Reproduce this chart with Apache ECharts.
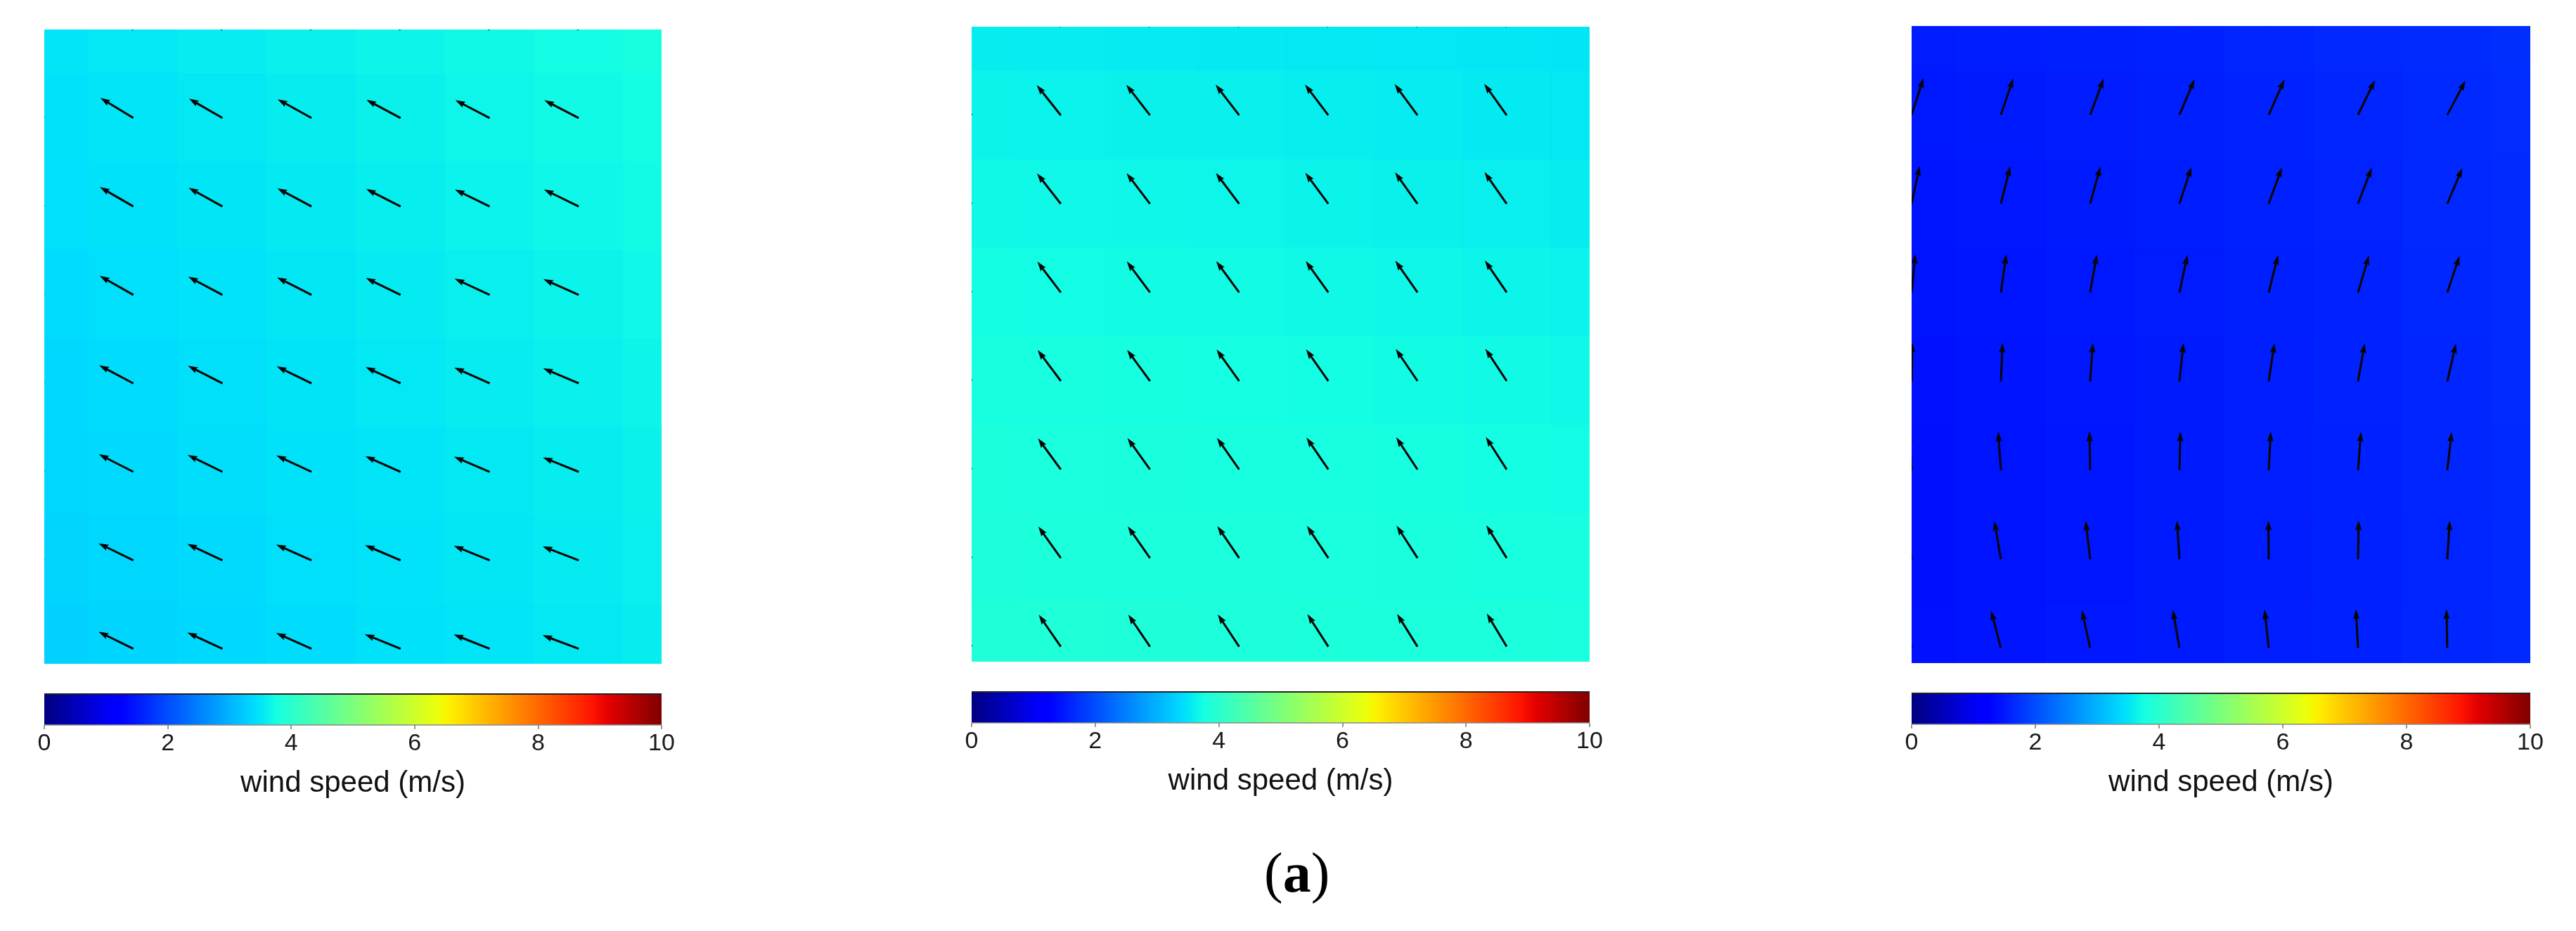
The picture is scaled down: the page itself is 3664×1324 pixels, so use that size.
<!DOCTYPE html>
<html>
<head>
<meta charset="utf-8">
<script src="https://cdn.jsdelivr.net/npm/echarts@6/dist/echarts.min.js"></script>
<style>
html,body{margin:0;padding:0;background:#fff;}
#chart{width:3664px;height:1324px;}
</style>
</head>
<body>
<div id="chart"></div>
<script>
// ---------------- DATA ----------------
// grid coordinates of the vector field (x columns, y rows; row 7 is the top edge)
const xCols = [0, 1, 2, 3, 4, 5, 6];
const yRows = [7, 6, 5, 4, 3, 2, 1, 0];
// background cells (cell centres) for the speed field
const cellCols = [0, 1, 2, 3, 4, 5, 6, 7];

// wind speed (m/s), rows listed from y=7 (top) to y=0 (bottom), columns x=0..7
const speed1 = [
  [3.50, 3.53, 3.57, 3.61, 3.65, 3.69, 3.73, 3.78],
  [3.47, 3.50, 3.54, 3.58, 3.62, 3.66, 3.70, 3.74],
  [3.44, 3.47, 3.51, 3.55, 3.59, 3.63, 3.67, 3.71],
  [3.41, 3.44, 3.48, 3.52, 3.56, 3.60, 3.64, 3.68],
  [3.38, 3.41, 3.45, 3.49, 3.53, 3.57, 3.61, 3.65],
  [3.36, 3.39, 3.43, 3.46, 3.50, 3.54, 3.58, 3.62],
  [3.33, 3.36, 3.40, 3.44, 3.48, 3.52, 3.56, 3.60],
  [3.30, 3.34, 3.38, 3.42, 3.46, 3.50, 3.54, 3.58]
];
const speed2 = [
  [3.58, 3.57, 3.56, 3.55, 3.54, 3.53, 3.52, 3.51],
  [3.64, 3.63, 3.62, 3.61, 3.59, 3.57, 3.55, 3.54],
  [3.69, 3.68, 3.67, 3.66, 3.64, 3.62, 3.60, 3.58],
  [3.74, 3.73, 3.72, 3.71, 3.69, 3.67, 3.65, 3.63],
  [3.78, 3.77, 3.76, 3.75, 3.74, 3.72, 3.70, 3.68],
  [3.82, 3.81, 3.80, 3.79, 3.78, 3.76, 3.74, 3.73],
  [3.85, 3.84, 3.83, 3.82, 3.81, 3.80, 3.79, 3.77],
  [3.88, 3.87, 3.86, 3.85, 3.84, 3.83, 3.82, 3.81]
];
const speed3 = [
  [1.52, 1.54, 1.56, 1.58, 1.61, 1.64, 1.67, 1.70],
  [1.49, 1.51, 1.53, 1.56, 1.59, 1.62, 1.65, 1.68],
  [1.46, 1.48, 1.51, 1.54, 1.57, 1.60, 1.64, 1.67],
  [1.44, 1.46, 1.49, 1.52, 1.56, 1.59, 1.63, 1.66],
  [1.42, 1.45, 1.48, 1.51, 1.55, 1.59, 1.62, 1.66],
  [1.41, 1.44, 1.47, 1.51, 1.55, 1.58, 1.62, 1.65],
  [1.41, 1.44, 1.47, 1.51, 1.54, 1.58, 1.61, 1.65],
  [1.42, 1.45, 1.48, 1.51, 1.55, 1.58, 1.62, 1.65]
];

// wind direction (degrees, counter-clockwise from east), rows y=7..0, columns x=0..6
const dir1 = [
  [147, 148, 150, 150.5, 151.5, 152, 152],
  [147.5, 148.6, 150, 151, 152, 152.5, 152.7],
  [149, 150, 151, 152, 153, 154, 154],
  [149.5, 150.5, 152, 153, 154, 155, 156],
  [151, 152, 153, 154, 155, 156, 157],
  [152, 153, 154, 155, 156, 157, 158],
  [153, 154, 155, 156, 157, 158, 159],
  [153, 154, 155.2, 156, 158, 158.4, 159.5]
];
const dir2 = [
  [129, 129, 128.3, 128, 127.7, 127, 126],
  [129, 128.5, 127.8, 127.5, 127.2, 126.3, 125.5],
  [128.5, 128, 127.3, 127, 126.5, 125.5, 125],
  [128, 127.3, 126.8, 126.3, 125.8, 125, 124.3],
  [127.3, 126.8, 126.3, 125.7, 125.2, 124.3, 123.5],
  [126.8, 126.2, 125.6, 125, 124.4, 123.5, 122.7],
  [126, 125.5, 125, 124.3, 123.6, 122.8, 121.8],
  [125.3, 124.7, 124.2, 123.5, 122.8, 122, 121]
];
const dir3 = [
  [68, 67, 65.5, 63, 62, 60, 58],
  [72, 71.3, 69.5, 67, 66, 64, 62],
  [78, 76, 74.5, 72, 70, 69, 67],
  [84.5, 82, 80, 78, 76, 73.5, 71.5],
  [89, 87.5, 86, 84, 81.5, 80, 77],
  [94, 94, 91, 88.5, 87, 85.5, 83.5],
  [100, 99.7, 96.7, 93.7, 90.5, 89, 86.3],
  [107, 104.7, 102.3, 99.9, 96.2, 93.1, 91.2]
];

const cbTicks = [0, 2, 4, 6, 8, 10];
const cbRange = [0, 10];
const cbName = 'wind speed (m/s)';
const panelLabel = 'a';

// ---------------- STYLE ----------------
function jet(t) {
  const cl = v => Math.max(0, Math.min(1, v));
  let r, g, b;
  if (t < 0.35) r = 0; else if (t < 0.66) r = (t - 0.35) / 0.31; else if (t < 0.89) r = 1; else r = 1 - 0.5 * (t - 0.89) / 0.11;
  if (t < 0.125) g = 0; else if (t < 0.375) g = (t - 0.125) / 0.25; else if (t < 0.64) g = 1; else if (t < 0.91) g = 1 - (t - 0.64) / 0.27; else g = 0;
  if (t < 0.11) b = 0.5 + 0.5 * t / 0.11; else if (t < 0.34) b = 1; else if (t < 0.65) b = 1 - (t - 0.34) / 0.31; else b = 0;
  const h = v => Math.round(cl(v) * 255);
  return 'rgb(' + h(r) + ',' + h(g) + ',' + h(b) + ')';
}
const N_STOPS = 80;
const jetColors = [];
const jetStops = [];
for (let i = 0; i <= N_STOPS; i++) {
  const t = i / N_STOPS;
  jetColors.push(jet(t));
  jetStops.push({ offset: t, color: jet(t) });
}

const ARROW_LEN = 55, HEAD_LEN = 14, HEAD_HW = 4.6, SHAFT_HW = 1.5;

const panels = [
  { left: 63, top: 42, width: 878, height: 902, speed: speed1, dir: dir1 },
  { left: 1382, top: 38, width: 879, height: 903, speed: speed2, dir: dir2 },
  { left: 2719, top: 37, width: 880, height: 906, speed: speed3, dir: dir3 }
];
const bars = [
  { left: 63, top: 987, width: 878, height: 44 },
  { left: 1382, top: 984, width: 879, height: 44 },
  { left: 2719, top: 986, width: 880, height: 44 }
];

const grids = [], xAxes = [], yAxes = [], series = [], cellSeriesIdx = [];
panels.forEach((p, i) => {
  grids.push({ left: p.left, top: p.top, width: p.width, height: p.height, containLabel: false });
  xAxes.push({ gridIndex: i, type: 'value', min: 0, max: 6.93, show: false });
  yAxes.push({ gridIndex: i, type: 'value', min: -0.17, max: 7, show: false });
  const cells = [];
  yRows.forEach((y, r) => cellCols.forEach((x, c) => cells.push([x, y, p.speed[r][c]])));
  cellSeriesIdx.push(series.length);
  series.push({
    type: 'custom', xAxisIndex: i, yAxisIndex: i, clip: true, silent: true,
    data: cells,
    renderItem: function (params, api) {
      const x = api.value(0), y = api.value(1);
      const a = api.coord([x - 0.5, y + 0.5]);
      const b = api.coord([x + 0.5, y - 0.5]);
      const col = api.visual('color');
      return { type: 'rect', shape: { x: a[0], y: a[1], width: b[0] - a[0], height: b[1] - a[1] },
        style: { fill: col, stroke: col, lineWidth: 1 } };
    }
  });
  const arrows = [];
  yRows.forEach((y, r) => xCols.forEach((x, c) => arrows.push([x, y, p.dir[r][c]])));
  series.push({
    type: 'custom', xAxisIndex: i, yAxisIndex: i, clip: true, silent: true, z: 5,
    data: arrows,
    renderItem: function (params, api) {
      const t = api.coord([api.value(0), api.value(1)]);
      const ang = api.value(2) * Math.PI / 180;
      const ux = Math.cos(ang), uy = -Math.sin(ang);
      const nx = -uy, ny = ux;
      const tip = [t[0] + ARROW_LEN * ux, t[1] + ARROW_LEN * uy];
      const bs = [t[0] + (ARROW_LEN - HEAD_LEN) * ux, t[1] + (ARROW_LEN - HEAD_LEN) * uy];
      const bn = [t[0] + (ARROW_LEN - HEAD_LEN * 0.9) * ux, t[1] + (ARROW_LEN - HEAD_LEN * 0.9) * uy];
      const pts = [
        [t[0] + SHAFT_HW * nx, t[1] + SHAFT_HW * ny],
        [bn[0] + SHAFT_HW * nx, bn[1] + SHAFT_HW * ny],
        [bs[0] + HEAD_HW * nx, bs[1] + HEAD_HW * ny],
        tip,
        [bs[0] - HEAD_HW * nx, bs[1] - HEAD_HW * ny],
        [bn[0] - SHAFT_HW * nx, bn[1] - SHAFT_HW * ny],
        [t[0] - SHAFT_HW * nx, t[1] - SHAFT_HW * ny]
      ];
      return { type: 'polygon', shape: { points: pts }, style: { fill: '#050505' } };
    }
  });
});

bars.forEach((b, k) => {
  const gi = grids.length;
  grids.push({ left: b.left, top: b.top, width: b.width, height: b.height });
  xAxes.push({
    gridIndex: gi, type: 'value', min: cbRange[0], max: cbRange[1], interval: 2,
    axisLine: { show: false }, splitLine: { show: false },
    axisTick: { show: true, length: 6, lineStyle: { color: '#777', width: 1.5 } },
    axisLabel: { fontSize: 34, color: '#1a1a1a', margin: 10, fontFamily: 'Liberation Sans',
      formatter: v => (cbTicks.indexOf(v) >= 0 ? String(v) : '') },
    name: cbName, nameLocation: 'middle', nameGap: 62,
    nameTextStyle: { fontSize: 42, color: '#111', fontFamily: 'Liberation Sans' }
  });
  yAxes.push({ gridIndex: gi, type: 'value', min: 0, max: 1, show: false });
  series.push({
    type: 'custom', xAxisIndex: gi, yAxisIndex: gi, silent: true,
    data: [[cbRange[0], cbRange[1]]],
    renderItem: function (params, api) {
      const a = api.coord([api.value(0), 1]);
      const c = api.coord([api.value(1), 0]);
      return {
        type: 'group', children: [
          { type: 'rect', shape: { x: a[0], y: a[1], width: c[0] - a[0], height: c[1] - a[1] },
            style: { fill: new echarts.graphic.LinearGradient(0, 0, 1, 0, jetStops) } },
          { type: 'line', shape: { x1: a[0], y1: a[1], x2: c[0], y2: a[1] }, style: { stroke: '#222', lineWidth: 2 } },
          { type: 'line', shape: { x1: a[0], y1: c[1], x2: c[0], y2: c[1] }, style: { stroke: '#888', lineWidth: 1.5 } }
        ]
      };
    }
  });
});

const chart = echarts.init(document.getElementById('chart'), null, { renderer: 'canvas' });
chart.setOption({
  backgroundColor: '#fff',
  animation: false,
  title: {
    text: '{p|(}{b|' + panelLabel + '}{p|)}',
    left: 1798, top: 1207, padding: 0,
    textStyle: {
      fontWeight: 'normal',
      rich: {
        p: { fontSize: 80, fontFamily: 'Liberation Serif', fontWeight: 'normal', color: '#000' },
        b: { fontSize: 80, fontFamily: 'Liberation Serif', fontWeight: 'bold', color: '#000' }
      }
    }
  },
  visualMap: {
    type: 'continuous', show: false, min: cbRange[0], max: cbRange[1], dimension: 2,
    seriesIndex: cellSeriesIdx, inRange: { color: jetColors }
  },
  grid: grids, xAxis: xAxes, yAxis: yAxes, series: series
});
</script>
</body>
</html>
